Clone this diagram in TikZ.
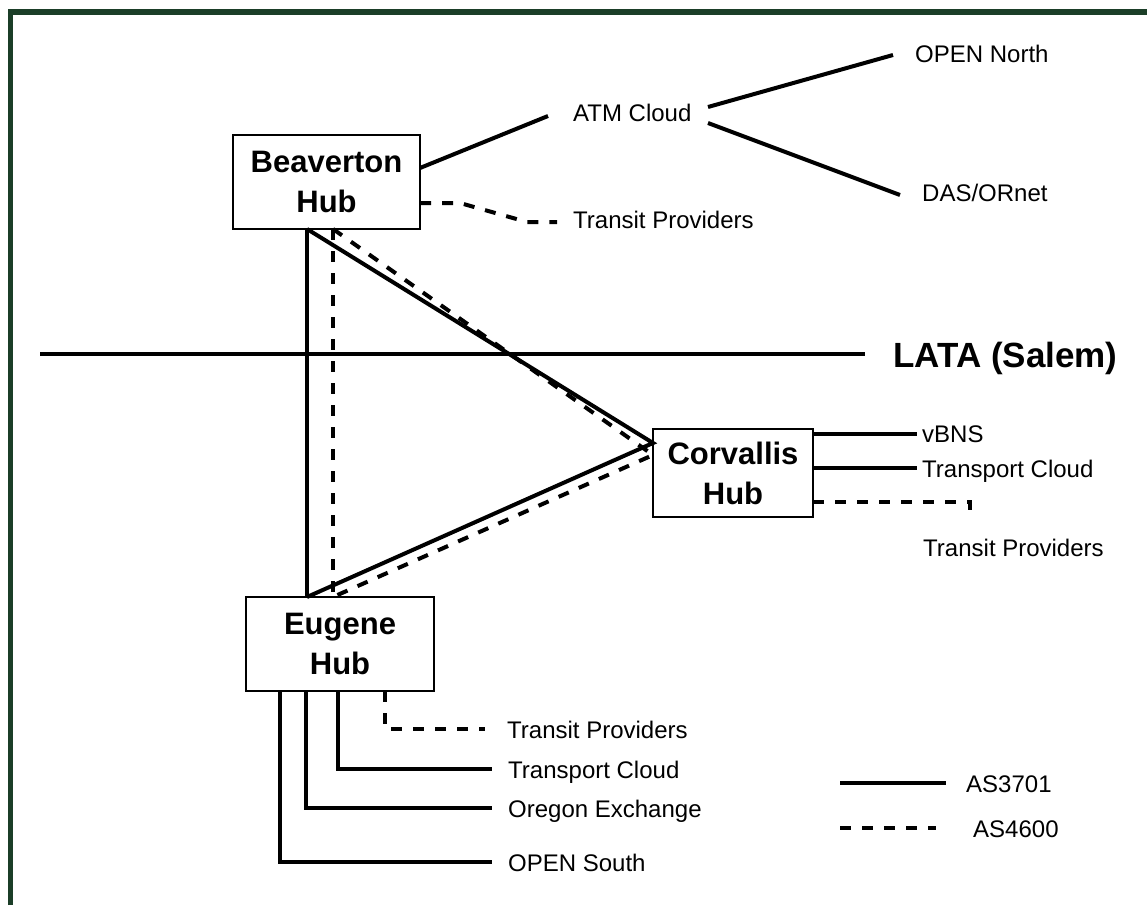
\documentclass[tikz,border=0pt]{standalone}
\usepackage{fontspec}
\setmainfont{Liberation Sans}
\usetikzlibrary{calc}
\definecolor{bordergreen}{RGB}{27,62,40}
\tikzset{
  hub/.style={draw, line width=2pt, inner sep=0pt, outer sep=0pt, align=center,
    font=\bfseries\fontsize{31}{40}\selectfont},
  lbl/.style={anchor=base west, inner sep=0pt, font=\fontsize{24}{28}\selectfont},
  as3701/.style={line width=4pt},
  as4600/.style={line width=4pt, dash pattern=on 11pt off 11pt},
}
\begin{document}
\begin{tikzpicture}[x=1pt,y=-1pt]
\useasboundingbox (0,0) rectangle (1147,905);
\fill[white] (0,0) rectangle (1147,905);
% frame
\draw[bordergreen, line width=5.5pt] (10.5,905) -- (10.5,12) -- (1147,12);

% hubs
\node[hub, minimum width=187pt, minimum height=94pt] (bev) at (326.5,182) {Beaverton\\Hub};
\node[hub, minimum width=160pt, minimum height=88pt] (cor) at (733,473) {Corvallis\\Hub};
\node[hub, minimum width=188pt, minimum height=94pt] (eug) at (340,644) {Eugene\\Hub};

% LATA line
\coordinate (lataL) at (40,354);
\coordinate (lataR) at (865,354);
\draw[as3701] (lataL) -- (lataR);
\node[anchor=base west, inner sep=0pt, font=\bfseries\fontsize{35}{38}\selectfont] (lata) at (893,367) {LATA (Salem)};

% labels
\node[lbl] (atm) at (573,121) {ATM Cloud};
\node[lbl] (openN) at (915,62) {OPEN North};
\node[lbl] (das) at (922,201) {DAS/ORnet};
\node[lbl] (btr) at (573,228) {Transit Providers};
\node[lbl] (vbns) at (922,442) {vBNS};
\node[lbl] (ctc) at (922,477) {Transport Cloud};
\node[lbl] (ctr) at (923,556) {Transit Providers};
\node[lbl] (etr) at (507,738) {Transit Providers};
\node[lbl] (etc) at (508,778) {Transport Cloud};
\node[lbl] (eox) at (508,817) {Oregon Exchange};
\node[lbl] (eos) at (508,871) {OPEN South};
\node[lbl] (l1) at (966,792) {AS3701};
\node[lbl] (l2) at (973,837) {AS4600};

% triangle AS3701
\draw[as3701] ($(bev.south west)+(74,0)$) -- ($(cor.north west)+(0,14)$) -- ($(eug.north west)+(61,0)$);
\draw[as3701] ($(bev.south west)+(74,0)$) -- ($(eug.north west)+(61,0)$);
% triangle AS4600
\draw[as4600] ($(bev.south west)+(100,0)$) -- ($(cor.north west)+(0,26)$) -- ($(eug.north west)+(87,0)$);
\draw[as4600] ($(bev.south west)+(100,0)$) -- ($(eug.north west)+(87,0)$);

% Beaverton connections
\coordinate (atmL) at (548,116);
\coordinate (atmR1) at (708,107);
\coordinate (atmR2) at (708,123);
\coordinate (onEnd) at (893,55);
\coordinate (dasEnd) at (900,195);
\draw[as3701] ($(bev.north east)+(0,33)$) -- (atmL);
\draw[as3701] (atmR1) -- (onEnd);
\draw[as3701] (atmR2) -- (dasEnd);
\coordinate (btrEnd) at (557,222);
\draw[as4600] ($(bev.north east)+(0,68)$) -- (460,203) -- (527,222) -- (btrEnd);

% Corvallis connections
\coordinate (vbnsEnd) at (917,434);
\coordinate (ctcEnd) at (917,468);
\coordinate (ctrEnd) at (970,520);
\draw[as3701] ($(cor.north east)+(0,5)$) -- (vbnsEnd);
\draw[as3701] ($(cor.north east)+(0,39)$) -- (ctcEnd);
\draw[as4600] ($(cor.north east)+(0,73)$) -| (ctrEnd);

% Eugene connections
\coordinate (eosEnd) at (492,862);
\coordinate (eoxEnd) at (492,808);
\coordinate (etcEnd) at (492,769);
\coordinate (etrEnd) at (485,729);
\draw[as3701] ($(eug.south west)+(34,0)$) |- (eosEnd);
\draw[as3701] ($(eug.south west)+(60,0)$) |- (eoxEnd);
\draw[as3701] ($(eug.south west)+(92,0)$) |- (etcEnd);
\draw[as4600] ($(eug.south west)+(139,0)$) |- (etrEnd);

% legend
\coordinate (s1a) at (840,783);
\coordinate (s1b) at (946,783);
\coordinate (s2a) at (840,828);
\coordinate (s2b) at (936,828);
\draw[as3701] (s1a) -- (s1b);
\draw[as4600] (s2a) -- (s2b);
\end{tikzpicture}
\end{document}
